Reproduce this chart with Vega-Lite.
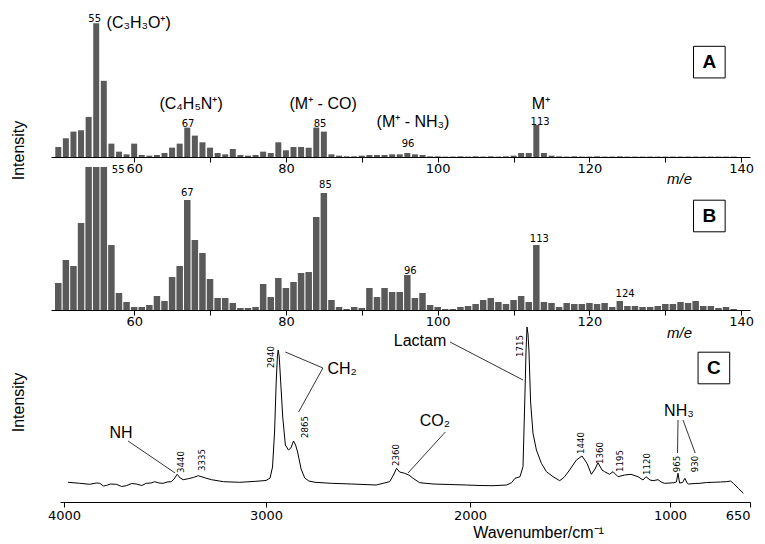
{
  "$schema": "https://vega.github.io/schema/vega-lite/v6.json",
  "padding": {"left": 10, "top": 10, "right": 0, "bottom": 0},
  "background": "white",
  "bounds": "flush",
  "spacing": 10,
  "config": {
    "view": {"stroke": null},
    "axis": {"labelFont": "DejaVu Sans", "labelFontSize": 13, "labelColor": "black", "domainColor": "black", "tickColor": "black", "titleFont": "Liberation Sans", "titleFontWeight": "normal", "titleColor": "black", "grid": false},
    "text": {"font": "Liberation Sans", "color": "black"}
  },
  "datasets": {
    "A": [
      {"m":50,"v":7.5},{"m":51,"v":14},{"m":52,"v":19},{"m":53,"v":20},{"m":54,"v":30},{"m":55,"v":100},{"m":56,"v":57},{"m":57,"v":10},{"m":58,"v":4},{"m":59,"v":2},
      {"m":60,"v":10},{"m":61,"v":1.5},{"m":62,"v":1},{"m":63,"v":1.5},{"m":64,"v":3},{"m":65,"v":7},{"m":66,"v":10},{"m":67,"v":22},{"m":68,"v":16},{"m":69,"v":11},
      {"m":70,"v":7},{"m":71,"v":3},{"m":72,"v":2},{"m":73,"v":6},{"m":74,"v":1.5},{"m":75,"v":1},{"m":76,"v":1.5},{"m":77,"v":4},{"m":78,"v":3},{"m":79,"v":11},
      {"m":80,"v":5},{"m":81,"v":7.5},{"m":82,"v":7.5},{"m":83,"v":7},{"m":84,"v":22},{"m":85,"v":19},{"m":86,"v":2},{"m":87,"v":1},{"m":88,"v":0.5},{"m":89,"v":0.5},
      {"m":90,"v":1},{"m":91,"v":1.5},{"m":92,"v":1.5},{"m":93,"v":1.5},{"m":94,"v":2},{"m":95,"v":2},{"m":96,"v":3},{"m":97,"v":2},{"m":98,"v":1.5},{"m":99,"v":0.5},
      {"m":100,"v":0.5},{"m":101,"v":0.3},{"m":102,"v":0.3},{"m":103,"v":0.5},{"m":104,"v":0.3},{"m":105,"v":0.5},{"m":106,"v":0.3},{"m":107,"v":0.5},{"m":108,"v":0.3},{"m":109,"v":0.5},
      {"m":110,"v":1},{"m":111,"v":3},{"m":112,"v":3},{"m":113,"v":24},{"m":114,"v":3},{"m":115,"v":1},{"m":116,"v":0.5},{"m":117,"v":0.3},{"m":118,"v":0.5},{"m":119,"v":0.3},
      {"m":120,"v":0.3},{"m":121,"v":0.5},{"m":122,"v":0.3},{"m":123,"v":0.3},{"m":124,"v":0.5},{"m":125,"v":0.3},{"m":126,"v":0.3},{"m":127,"v":0.3},{"m":128,"v":0.3},{"m":129,"v":0.3},
      {"m":130,"v":0.3},{"m":131,"v":0.3},{"m":132,"v":0.3},{"m":133,"v":0.3},{"m":134,"v":0.3},{"m":135,"v":0.3},{"m":136,"v":0.3},{"m":137,"v":0.3},{"m":138,"v":0.3},{"m":139,"v":0.3}
    ],
    "B": [
      {"m":50,"v":27},{"m":51,"v":50},{"m":52,"v":44},{"m":53,"v":87},{"m":54,"v":150},{"m":55,"v":300},{"m":56,"v":200},{"m":57,"v":65},{"m":58,"v":17},{"m":59,"v":8},
      {"m":60,"v":3},{"m":61,"v":3},{"m":62,"v":5},{"m":63,"v":14},{"m":64,"v":9},{"m":65,"v":33},{"m":66,"v":44},{"m":67,"v":110},{"m":68,"v":70},{"m":69,"v":57},
      {"m":70,"v":31},{"m":71,"v":12},{"m":72,"v":12},{"m":73,"v":7},{"m":74,"v":2},{"m":75,"v":2},{"m":76,"v":3},{"m":77,"v":26},{"m":78,"v":13},{"m":79,"v":32},
      {"m":80,"v":22},{"m":81,"v":28},{"m":82,"v":37},{"m":83,"v":38},{"m":84,"v":93},{"m":85,"v":117},{"m":86,"v":10},{"m":87,"v":3},{"m":88,"v":1},{"m":89,"v":3},
      {"m":90,"v":2},{"m":91,"v":22},{"m":92,"v":13},{"m":93,"v":22},{"m":94,"v":18},{"m":95,"v":18},{"m":96,"v":35},{"m":97,"v":12},{"m":98,"v":17},{"m":99,"v":5},
      {"m":100,"v":3},{"m":101,"v":1},{"m":102,"v":1},{"m":103,"v":3},{"m":104,"v":4},{"m":105,"v":6},{"m":106,"v":10},{"m":107,"v":12},{"m":108,"v":8},{"m":109,"v":6},
      {"m":110,"v":10},{"m":111,"v":14},{"m":112,"v":8},{"m":113,"v":65},{"m":114,"v":8},{"m":115,"v":7},{"m":116,"v":3},{"m":117,"v":7},{"m":118,"v":6},{"m":119,"v":6},
      {"m":120,"v":7},{"m":121,"v":6},{"m":122,"v":7},{"m":123,"v":3},{"m":124,"v":9},{"m":125,"v":4},{"m":126,"v":4},{"m":127,"v":3},{"m":128,"v":3},{"m":129,"v":4},
      {"m":130,"v":6},{"m":131,"v":6},{"m":132,"v":8},{"m":133,"v":7},{"m":134,"v":9},{"m":135,"v":4},{"m":136,"v":4},{"m":137,"v":2},{"m":138,"v":3},{"m":139,"v":1}
    ],
    "C": [
      {"wn":3980,"a":19.7},{"wn":3922,"a":18.7},{"wn":3873,"a":17.7},{"wn":3840,"a":19},{"wn":3823,"a":18.7},{"wn":3805,"a":16},{"wn":3791,"a":16.5},{"wn":3770,"a":18},{"wn":3741,"a":17.7},{"wn":3715,"a":15.5},
      {"wn":3692,"a":16.3},{"wn":3665,"a":18.5},{"wn":3642,"a":18},{"wn":3615,"a":16.5},{"wn":3593,"a":18.7},{"wn":3570,"a":19},{"wn":3551,"a":20.3},{"wn":3530,"a":19},{"wn":3510,"a":18.7},{"wn":3490,"a":20},
      {"wn":3469,"a":20.3},{"wn":3455,"a":23},{"wn":3440,"a":27.7},{"wn":3425,"a":24},{"wn":3410,"a":22.3},{"wn":3385,"a":23.3},{"wn":3360,"a":24.5},{"wn":3335,"a":26.3},{"wn":3300,"a":24},{"wn":3270,"a":22.3},
      {"wn":3210,"a":20.3},{"wn":3130,"a":19.7},{"wn":3050,"a":20.7},{"wn":3000,"a":21.5},{"wn":2980,"a":24},{"wn":2968,"a":35},{"wn":2958,"a":70},{"wn":2950,"a":120},{"wn":2944,"a":146},{"wn":2940,"a":152},
      {"wn":2935,"a":145},{"wn":2928,"a":120},{"wn":2918,"a":85},{"wn":2905,"a":57},{"wn":2890,"a":52},{"wn":2878,"a":54},{"wn":2865,"a":61},{"wn":2855,"a":57},{"wn":2845,"a":50},{"wn":2828,"a":33},
      {"wn":2810,"a":24},{"wn":2790,"a":21},{"wn":2760,"a":19.7},{"wn":2680,"a":18.7},{"wn":2580,"a":18},{"wn":2460,"a":17},{"wn":2426,"a":18.7},{"wn":2394,"a":20.3},{"wn":2375,"a":27},{"wn":2360,"a":33.7},
      {"wn":2345,"a":30},{"wn":2320,"a":28.7},{"wn":2300,"a":27},{"wn":2279,"a":23.7},{"wn":2247,"a":19.3},{"wn":2181,"a":18},{"wn":2100,"a":17.5},{"wn":2018,"a":17},{"wn":1950,"a":16.5},{"wn":1885,"a":16.3},
      {"wn":1817,"a":17},{"wn":1792,"a":19.3},{"wn":1775,"a":23.7},{"wn":1750,"a":25.3},{"wn":1735,"a":35.3},{"wn":1725,"a":110},{"wn":1720,"a":150},{"wn":1715,"a":175},{"wn":1710,"a":168},{"wn":1705,"a":150},
      {"wn":1697,"a":100},{"wn":1685,"a":68.7},{"wn":1668,"a":52},{"wn":1643,"a":38.7},{"wn":1618,"a":30.3},{"wn":1585,"a":25.3},{"wn":1565,"a":23},{"wn":1552,"a":21.3},{"wn":1540,"a":23},{"wn":1527,"a":25.3},
      {"wn":1502,"a":32},{"wn":1468,"a":42},{"wn":1440,"a":46},{"wn":1415,"a":38.7},{"wn":1393,"a":27.7},{"wn":1375,"a":33},{"wn":1360,"a":39.3},{"wn":1340,"a":32},{"wn":1327,"a":30.3},{"wn":1302,"a":27.7},
      {"wn":1285,"a":30.3},{"wn":1260,"a":25.3},{"wn":1227,"a":27},{"wn":1195,"a":27.7},{"wn":1160,"a":25.3},{"wn":1135,"a":22},{"wn":1120,"a":25.3},{"wn":1100,"a":22},{"wn":1085,"a":21.3},{"wn":1060,"a":22.3},
      {"wn":1040,"a":19.5},{"wn":1027,"a":18.7},{"wn":1000,"a":19},{"wn":985,"a":19.3},{"wn":972,"a":20},{"wn":965,"a":28.7},{"wn":958,"a":19},{"wn":945,"a":19.5},{"wn":935,"a":23.7},{"wn":925,"a":19},
      {"wn":920,"a":18},{"wn":890,"a":18.5},{"wn":869,"a":18.7},{"wn":840,"a":19.5},{"wn":811,"a":19.7},{"wn":780,"a":20},{"wn":752,"a":20.3},{"wn":735,"a":21},{"wn":723,"a":18.7},{"wn":701,"a":13.7},{"wn":679,"a":8.7}
    ],
    "Asmall": [{"m":54.8,"v":103,"t":"55"},{"m":67.1,"v":25,"t":"67"},{"m":84.5,"v":25,"t":"85"},{"m":96.1,"v":10,"t":"96"},{"m":113.5,"v":26,"t":"113"}],
    "Abig": [{"m":60.6,"v":100,"t":"(C₃H₃O⁺)"},{"m":67.5,"v":40,"t":"(C₄H₅N⁺)"},{"m":84.9,"v":40,"t":"(M⁺ - CO)"},{"m":96.75,"v":26,"t":"(M⁺ - NH₃)"},{"m":113.6,"v":40,"t":"M⁺"}],
    "Abox": [{"m":135.8,"v":71,"t":"A"}],
    "Bsmall": [{"m":57.9,"v":140,"t":"55"},{"m":67.0,"v":117,"t":"67"},{"m":85.2,"v":125,"t":"85"},{"m":96.4,"v":39,"t":"96"},{"m":113.4,"v":71,"t":"113"},{"m":124.7,"v":16,"t":"124"}],
    "Bbox": [{"m":135.8,"v":94,"t":"B"}],
    "Crot": [{"wn":3421,"a":40,"t":"3440"},{"wn":3317,"a":42,"t":"3335"},{"wn":2976,"a":145,"t":"2940"},{"wn":2809,"a":75,"t":"2865"},{"wn":2363,"a":47,"t":"2360"},{"wn":1750,"a":156,"t":"1715"},{"wn":1445,"a":59,"t":"1440"},{"wn":1350,"a":49,"t":"1360"},{"wn":1250,"a":41,"t":"1195"},{"wn":1115,"a":38,"t":"1120"},{"wn":969,"a":38,"t":"965"},{"wn":891,"a":38,"t":"930"}],
    "Cbig": [{"wn":3718,"a":69,"t":"NH"},{"wn":2627,"a":133,"t":"CH₂"},{"wn":2172,"a":81,"t":"CO₂"},{"wn":2245,"a":161,"t":"Lactam"},{"wn":961,"a":91,"t":"NH₃"}],
    "Crules": [{"wn":3683,"a":61,"wn2":3450,"a2":29},{"wn":2905,"a":150,"wn2":2721,"a2":134},{"wn":2721,"a":134,"wn2":2840,"a2":90},{"wn":2121,"a":70,"wn2":2304,"a2":29},{"wn":2098,"a":160,"wn2":1735,"a2":122},{"wn":965,"a":82,"wn2":967,"a2":49},{"wn":943,"a":82,"wn2":890,"a2":49}],
    "Cbox": [{"wn":808,"a":134,"t":"C"}]
  },
  "vconcat": [
    {
      "width": 699, "height": 147,
      "layer": [
        {
          "data": {"name": "A"},
          "mark": {"type": "bar", "color": "#5a5a5a", "size": 6},
          "encoding": {
            "x": {"field": "m", "type": "quantitative", "scale": {"domain": [49.7, 140.5], "nice": false, "zero": false},
                  "axis": {"title": "m/e", "values": [60,70,80,90,100,110,120,130,140], "labelExpr": "datum.value % 20 == 0 ? datum.label : ''", "tickSize": 5, "labelPadding": 0, "titleX": 628, "titleY": 21, "titleAlign": "center", "titleBaseline": "middle", "titleFontStyle": "italic", "titleFontSize": 15}},
            "y": {"field": "v", "type": "quantitative", "scale": {"domain": [0, 110], "nice": false},
                  "axis": {"title": "Intensity", "domain": false, "ticks": false, "labels": false, "titlePadding": 25, "titleFontSize": 16, "titleY": 140}}
          }
        },
        {
          "data": {"name": "Asmall"},
          "mark": {"type": "text", "font": "DejaVu Sans", "fontSize": 10, "align": "center", "baseline": "middle"},
          "encoding": {"x": {"field": "m", "type": "quantitative"}, "y": {"field": "v", "type": "quantitative"}, "text": {"field": "t"}}
        },
        {
          "data": {"name": "Abig"},
          "mark": {"type": "text", "fontSize": 16, "align": "center", "baseline": "middle"},
          "encoding": {"x": {"field": "m", "type": "quantitative"}, "y": {"field": "v", "type": "quantitative"}, "text": {"field": "t"}}
        },
        {
          "data": {"name": "Abox"},
          "mark": {"type": "point", "shape": "square", "size": 1000, "filled": false, "stroke": "black", "strokeWidth": 1, "opacity": 1},
          "encoding": {"x": {"field": "m", "type": "quantitative"}, "y": {"field": "v", "type": "quantitative"}}
        },
        {
          "data": {"name": "Abox"},
          "mark": {"type": "text", "fontSize": 19, "fontWeight": "bold", "align": "center", "baseline": "middle"},
          "encoding": {"x": {"field": "m", "type": "quantitative"}, "y": {"field": "v", "type": "quantitative"}, "text": {"field": "t"}}
        }
      ]
    },
    {
      "width": 699, "height": 143,
      "layer": [
        {
          "data": {"name": "B"},
          "mark": {"type": "bar", "color": "#5a5a5a", "size": 6.5, "clip": true},
          "encoding": {
            "x": {"field": "m", "type": "quantitative", "scale": {"domain": [49.7, 140.5], "nice": false, "zero": false},
                  "axis": {"title": "m/e", "values": [60,70,80,90,100,110,120,130,140], "labelExpr": "datum.value % 20 == 0 ? datum.label : ''", "tickSize": 5, "labelPadding": 0, "titleX": 628, "titleY": 22, "titleAlign": "center", "titleBaseline": "middle", "titleFontStyle": "italic", "titleFontSize": 15}},
            "y": {"field": "v", "type": "quantitative", "scale": {"domain": [0, 143], "nice": false}, "axis": null}
          }
        },
        {
          "data": {"name": "Bsmall"},
          "mark": {"type": "text", "font": "DejaVu Sans", "fontSize": 10, "align": "center", "baseline": "middle"},
          "encoding": {"x": {"field": "m", "type": "quantitative"}, "y": {"field": "v", "type": "quantitative"}, "text": {"field": "t"}}
        },
        {
          "data": {"name": "Bbox"},
          "mark": {"type": "point", "shape": "square", "size": 1000, "filled": false, "stroke": "black", "strokeWidth": 1, "opacity": 1},
          "encoding": {"x": {"field": "m", "type": "quantitative"}, "y": {"field": "v", "type": "quantitative"}}
        },
        {
          "data": {"name": "Bbox"},
          "mark": {"type": "text", "fontSize": 19, "fontWeight": "bold", "align": "center", "baseline": "middle"},
          "encoding": {"x": {"field": "m", "type": "quantitative"}, "y": {"field": "v", "type": "quantitative"}, "text": {"field": "t"}}
        }
      ]
    },
    {
      "width": 699, "height": 182,
      "layer": [
        {
          "data": {"name": "C"},
          "mark": {"type": "line", "color": "black", "strokeWidth": 1},
          "encoding": {
            "x": {"field": "wn", "type": "quantitative", "scale": {"domain": [4020, 3000, 2000, 1000, 650], "range": [9, 215, 419, 619, 699], "nice": false, "zero": false},
                  "axis": {"title": "Wavenumber/cm⁻¹", "values": [4000, 3000, 2000, 1000, 650], "format": "d", "tickSize": 5, "labelPadding": 2, "titleX": 487, "titleY": 30, "titleAlign": "center", "titleBaseline": "middle", "titleFontSize": 16}},
            "y": {"field": "a", "type": "quantitative", "scale": {"domain": [0, 182], "nice": false},
                  "axis": {"title": "Intensity", "domain": false, "ticks": false, "labels": false, "titlePadding": 25, "titleFontSize": 16, "titleY": 82}}
          }
        },
        {
          "data": {"name": "Crules"},
          "mark": {"type": "rule", "color": "black", "strokeWidth": 0.8},
          "encoding": {"x": {"field": "wn", "type": "quantitative"}, "x2": {"field": "wn2"}, "y": {"field": "a", "type": "quantitative"}, "y2": {"field": "a2"}}
        },
        {
          "data": {"name": "Crot"},
          "mark": {"type": "text", "font": "DejaVu Sans Condensed, Liberation Sans, sans-serif", "fontSize": 9.5, "angle": 270, "align": "center", "baseline": "middle"},
          "encoding": {"x": {"field": "wn", "type": "quantitative"}, "y": {"field": "a", "type": "quantitative"}, "text": {"field": "t"}}
        },
        {
          "data": {"name": "Cbig"},
          "mark": {"type": "text", "fontSize": 16, "align": "center", "baseline": "middle"},
          "encoding": {"x": {"field": "wn", "type": "quantitative"}, "y": {"field": "a", "type": "quantitative"}, "text": {"field": "t"}}
        },
        {
          "data": {"name": "Cbox"},
          "mark": {"type": "point", "shape": "square", "size": 1000, "filled": false, "stroke": "black", "strokeWidth": 1, "opacity": 1},
          "encoding": {"x": {"field": "wn", "type": "quantitative"}, "y": {"field": "a", "type": "quantitative"}}
        },
        {
          "data": {"name": "Cbox"},
          "mark": {"type": "text", "fontSize": 19, "fontWeight": "bold", "align": "center", "baseline": "middle"},
          "encoding": {"x": {"field": "wn", "type": "quantitative"}, "y": {"field": "a", "type": "quantitative"}, "text": {"field": "t"}}
        }
      ]
    }
  ]
}
